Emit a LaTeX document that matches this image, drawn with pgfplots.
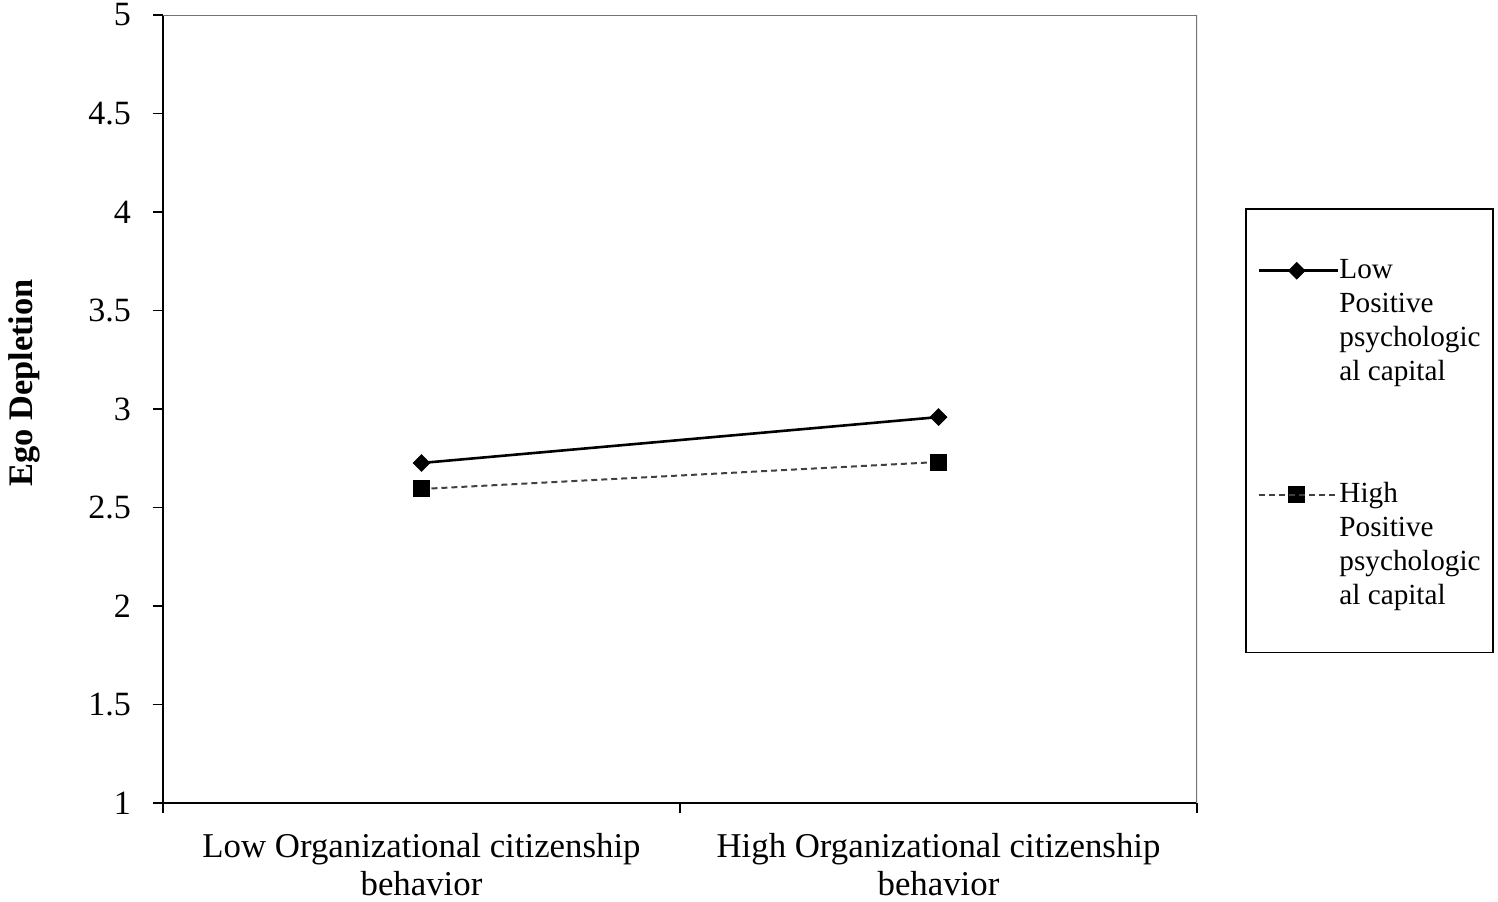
\documentclass[border=0pt]{standalone}
\usepackage{fontspec}
\setmainfont{Liberation Serif}
\usepackage{pgfplots}
\pgfplotsset{compat=1.18}
\begin{document}
\begin{tikzpicture}
\useasboundingbox (-81.5pt,-49pt) rectangle (667.5pt,401.5pt);
\begin{axis}[
  at={(0pt,0pt)}, anchor=south west,
  scale only axis, width=517pt, height=394pt,
  xmin=0, xmax=2, ymin=1, ymax=5,
  axis x line*=bottom, axis y line*=left,
  axis line style={line width=1.1pt, black, -},
  xtick={0,1,2},
  xticklabels={Low Organizational citizenship\\behavior, High Organizational citizenship\\behavior},
  x tick label as interval,
  ytick={1,1.5,2,2.5,3,3.5,4,4.5,5},
  tick align=outside, major tick length=5pt,
  tick style={black, line width=0.9pt},
  x tick label style={align=center, font=\fontsize{17.4}{19}\selectfont, yshift=-6.5pt},
  y tick label style={font=\fontsize{17}{19}\selectfont, xshift=-7.5pt},
  /pgf/number format/assume math mode=true,
  ylabel={Ego Depletion},
  ylabel style={font=\fontsize{17.2}{19}\selectfont\bfseries, at={(axis description cs:-0.1345,0.533)}, anchor=center},
  legend style={at={(axis description cs:1.0464,0.755)}, anchor=north west, draw=black, line width=0.9pt,
    inner xsep=6pt, inner ysep=23pt, row sep=44pt, font=\fontsize{14.6}{17}\selectfont,
    nodes={inner xsep=0pt, inner ysep=0pt, text depth=}, cells={anchor=base west}},
  legend image code/.code={\draw[mark repeat=2, mark phase=2, #1] plot coordinates {(0pt,4pt) (18.75pt,4pt) (37.5pt,4pt)}; \path (0pt,4pt) -- (39.5pt,4pt);},
]
\draw[black!55, line width=0.6pt] (rel axis cs:0,1) -- (rel axis cs:1,1) -- (rel axis cs:1,0);
\addplot[black, line width=1.3pt, mark=square*, mark size=2.5pt, mark options={rotate=45, solid, fill=black}] coordinates {(0.5,2.726) (1.5,2.959)};
\addlegendentry{\begin{tabular}[t]{@{}l@{}}Low\\Positive\\psychologic\\al capital\end{tabular}}
\addplot[black!75, dash pattern=on 3pt off 2pt, line width=1pt, mark=square*, mark size=3.75pt, mark options={solid, black, fill=black}] coordinates {(0.5,2.594) (1.5,2.731)};
\addlegendentry{\raisebox{0pt}[\height][\dimexpr\depth-4.25pt\relax]{\begin{tabular}[t]{@{}l@{}}High\\Positive\\psychologic\\al capital\end{tabular}}}
\end{axis}
\end{tikzpicture}
\end{document}
